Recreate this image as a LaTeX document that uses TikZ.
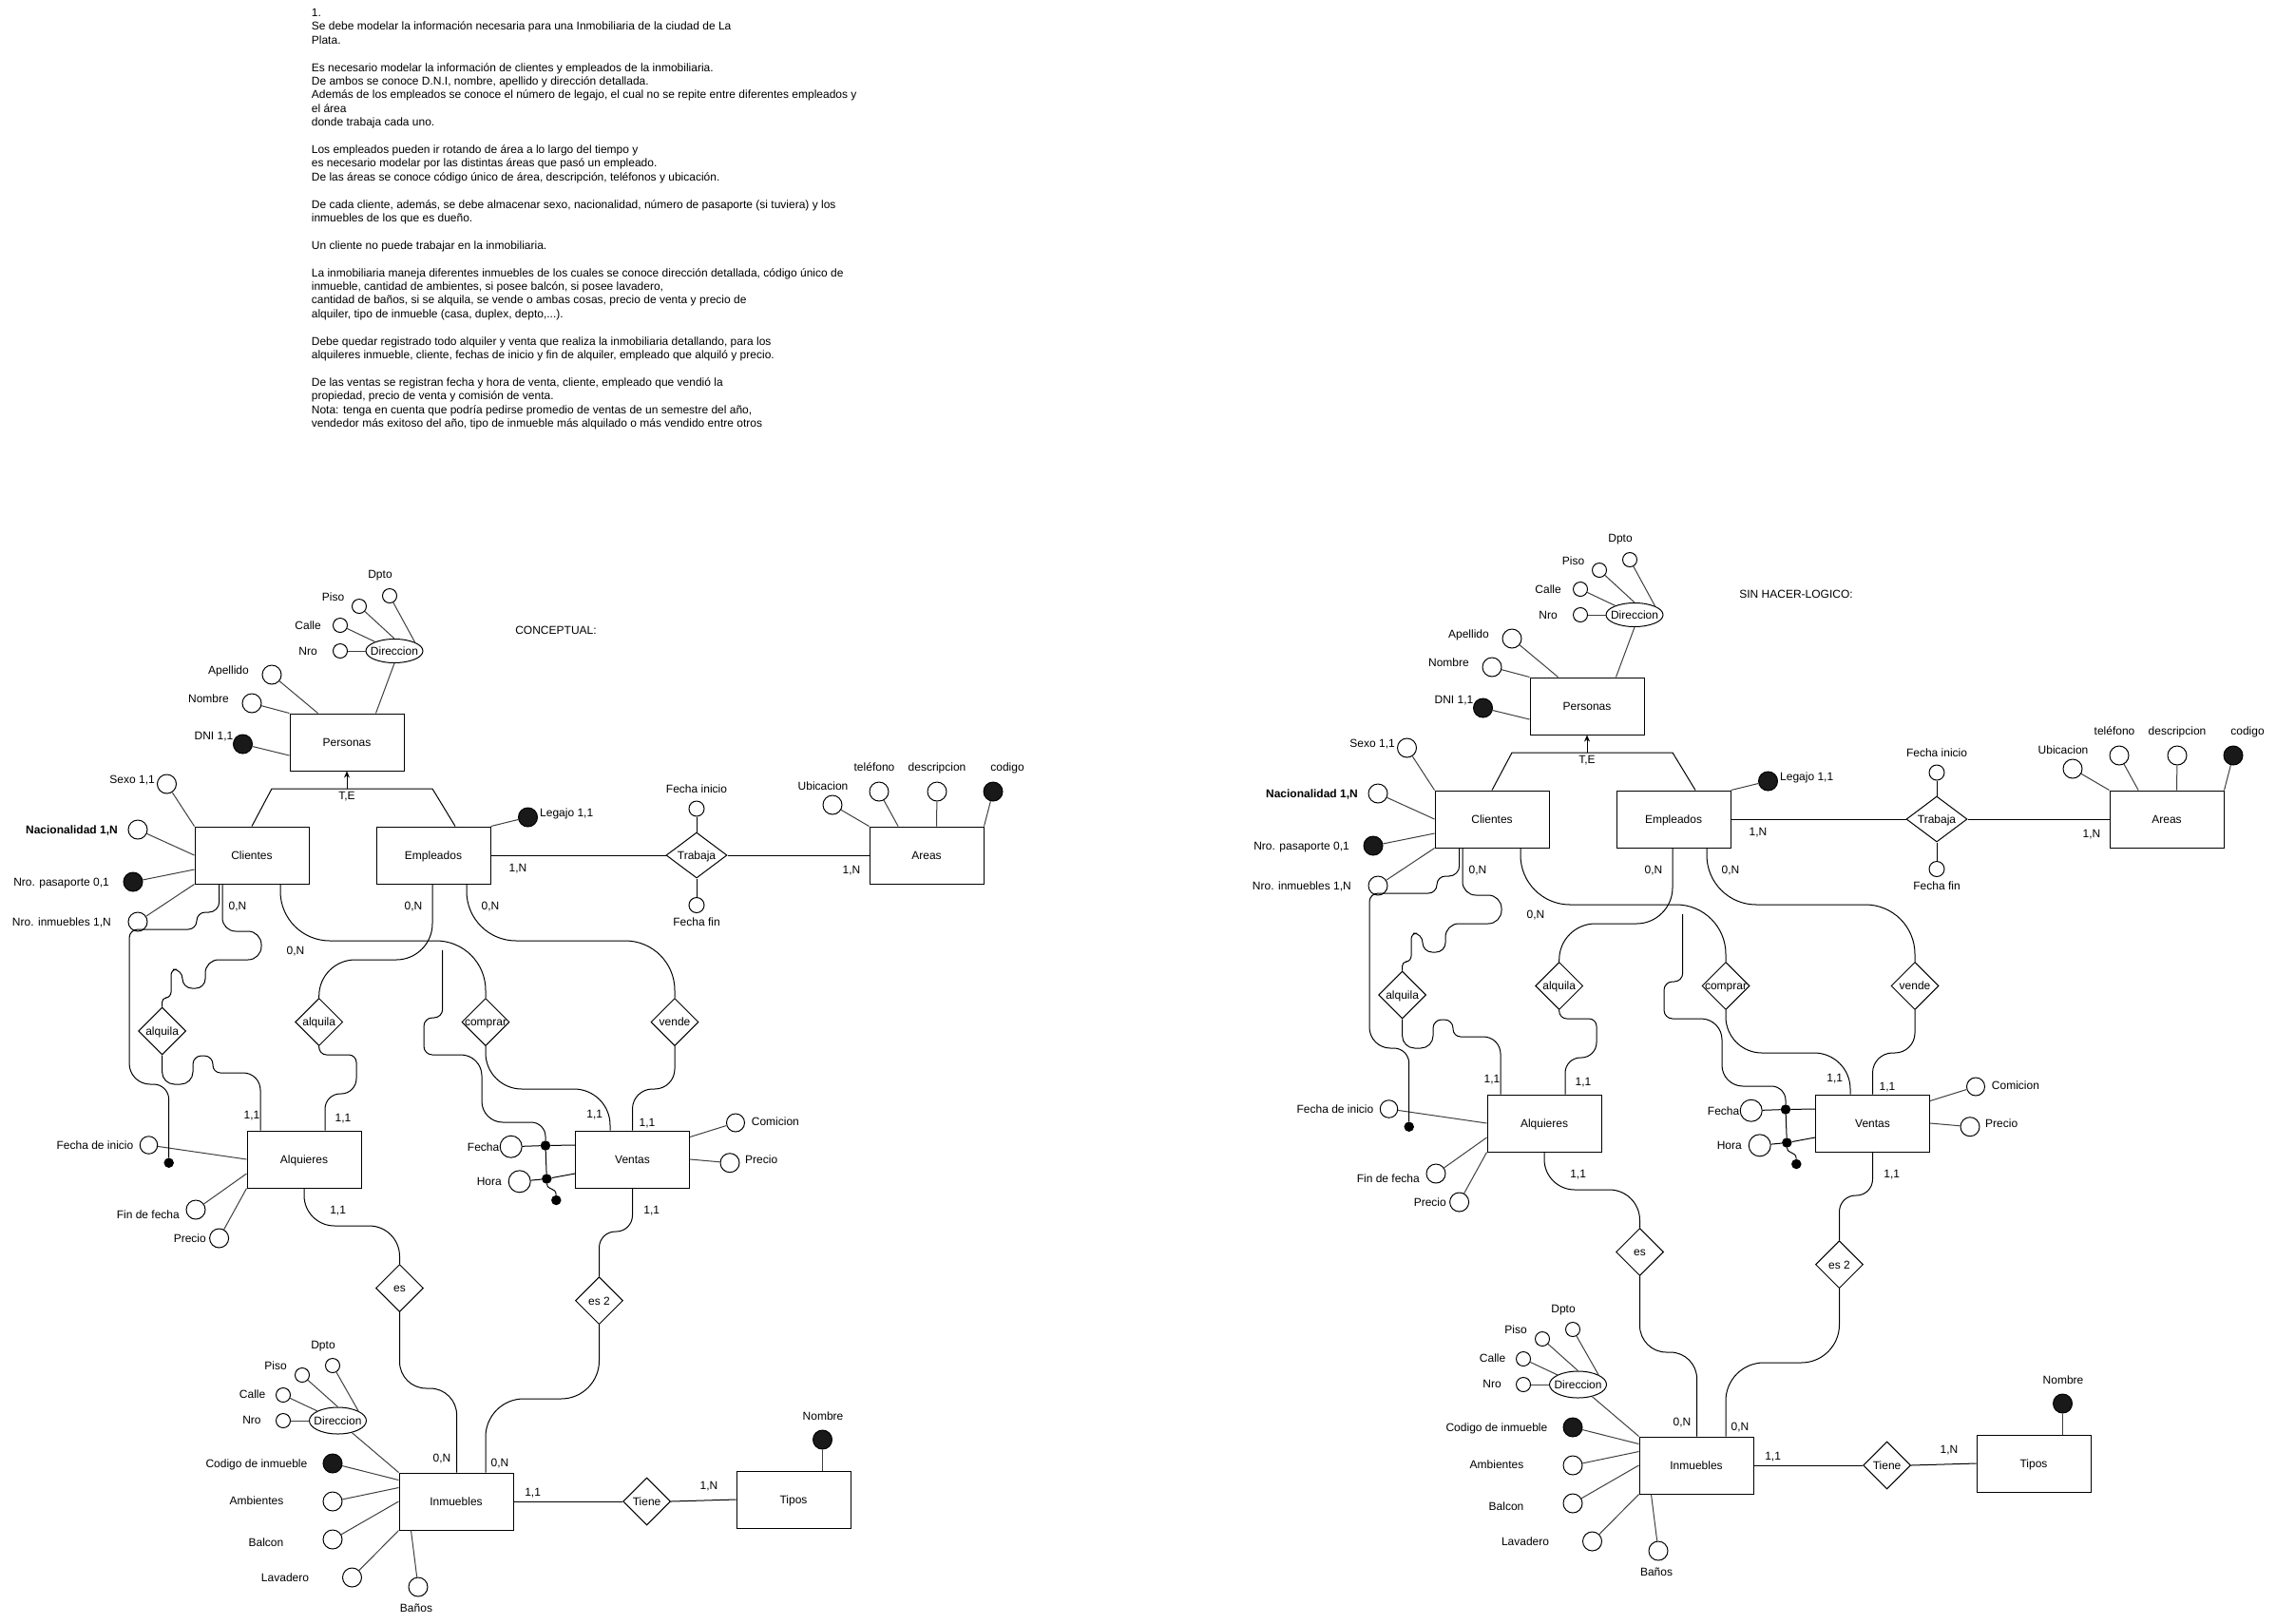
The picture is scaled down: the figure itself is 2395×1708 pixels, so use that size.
\documentclass[tikz,border=0pt]{standalone}
\usepackage{fontspec}
\setmainfont{Liberation Sans}
\usetikzlibrary{shapes.geometric,arrows.meta}
\newcommand\erfont{\fontsize{12pt}{14.4pt}\selectfont}
\tikzset{
  entbox/.style={draw, line width=1pt, minimum width=120pt, minimum height=60pt, inner sep=0pt, text height=8.6pt, text depth=0pt},
  attcirc/.style={circle, draw, line width=1pt, fill=white, minimum size=20pt, inner sep=0pt},
  keycirc/.style={circle, draw, line width=1pt, fill=black!90, minimum size=20pt, inner sep=0pt},
  subcirc/.style={circle, draw, line width=1pt, fill=white, minimum size=15pt, inner sep=0pt},
  dotcirc/.style={circle, fill=black, minimum size=10.5pt, inner sep=0pt},
  relshape/.style={diamond, draw, line width=1pt, minimum width=50pt, minimum height=50pt, inner sep=0pt},
  ellshape/.style={ellipse, draw, line width=1pt, minimum width=60pt, minimum height=25pt, inner sep=0pt},
  attline/.style={draw=black!75, line width=1pt},
  relline/.style={draw=black, line width=1pt},
  lbl/.style={inner sep=0pt, text height=8.6pt, text depth=0pt},
}
\newcommand\erdiagram{%
% ---------- Personas ----------
\node[entbox] (per) at (365,781) {Personas};
\node[ellshape, label={[lbl]center:Direccion}] (dir) at (415,685) {};
\node[subcirc] (nro) at (358,685) {};
\node[subcirc] (calle) at (358,658) {};
\node[subcirc] (piso) at (378,638) {};
\node[subcirc] (dpto) at (410,627) {};
\node[attcirc] (apel) at (286,710) {};
\node[attcirc] (nomb) at (265,740) {};
\node[keycirc] (dni) at (255.5,783) {};
\node[lbl,anchor=east] (t-nro) at (334,685) {Nro};
\node[lbl,anchor=east] (t-calle) at (338,658) {Calle};
\node[lbl] (t-piso) at (350.5,628) {Piso};
\node[lbl] (t-dpto) at (400,604) {Dpto};
\node[lbl,anchor=east] (t-apel) at (262,705) {Apellido};
\node[lbl,anchor=east] (t-nomb) at (241,735) {Nombre};
\node[lbl,anchor=east] (t-dni) at (245.5,774) {DNI 1,1};
\draw[attline] (nro) -- (dir);
\draw[attline] (calle) -- (dir);
\draw[attline] (piso) -- (dir.north);
\draw[attline] (dpto) -- (dir.north east);
\draw[attline] (dir.south) -- ([xshift=91pt]per.north west);
\draw[attline] (apel) -- ([xshift=30pt]per.north west);
\draw[attline] (nomb) -- (per.north west);
\draw[attline] (dni) -- ([yshift=-14pt]per.west);
% ---------- Clientes / Empleados ----------
\node[entbox] (cli) at (265,900) {Clientes};
\node[entbox] (emp) at (456,900) {Empleados};
\coordinate (isaL) at (286,830);
\coordinate (isaR) at (455,830);
\coordinate (isaM) at (365,830);
\draw[relline] (cli.north) -- (isaL) -- (isaR) -- ([xshift=23pt]emp.north);
\draw[relline, -{Stealth[length=7pt,width=6pt]}] (isaM) -- (per.south);
\node[lbl] (t-te) at (365,837.5) {T,E};
\node[attcirc] (sexo) at (175.5,825) {};
\node[attcirc] (nac) at (145,873) {};
\node[keycirc] (pas) at (140,928) {};
\node[attcirc] (ninm) at (145,970) {};
\node[lbl,anchor=east] (t-sexo) at (163,820) {Sexo 1,1};
\node[lbl,anchor=east,font=\erfont\bfseries] (t-nac) at (124,873) {Nacionalidad 1,N};
\node[lbl,anchor=east] (t-pas) at (115,928) {Nro. pasaporte 0,1};
\node[lbl,anchor=east] (t-ninm) at (117,970) {Nro. inmuebles 1,N};
\draw[attline] (sexo) -- (cli.north west);
\draw[attline] (nac) -- (cli.west);
\draw[attline] (pas) -- ([yshift=-15pt]cli.west);
\draw[attline] (ninm) -- (cli.south west);
\node[keycirc] (leg) at (555.5,860) {};
\node[lbl,anchor=west] (t-leg) at (568,855) {Legajo 1,1};
\draw[attline] (leg) -- (emp.north east);
% ---------- Trabaja / Areas ----------
\node[relshape, minimum width=64pt, minimum height=48pt, label={[lbl]center:Trabaja}] (trab) at (733,900) {};
\node[attcirc, minimum size=16pt] (finicio) at (733,851) {};
\node[attcirc, minimum size=16pt] (ffin) at (733,952.5) {};
\node[lbl] (t-finicio) at (733,830) {Fecha inicio};
\node[lbl] (t-ffin) at (733,970) {Fecha fin};
\draw[relline] (finicio) -- (trab.north);
\draw[relline] (ffin) -- (trab.south);
\node[entbox] (are) at (975,900) {Areas};
\draw[relline] (emp.east) -- (trab.west);
\draw[relline] (trab.east) -- (are.west);
\node[lbl] (t-1n-a) at (545,913) {1,N};
\node[lbl] (t-1n-b) at (896,915) {1,N};
\node[attcirc] (ubic) at (876,847) {};
\node[attcirc] (tel) at (925,833) {};
\node[attcirc] (desc) at (986,833) {};
\node[keycirc] (cod) at (1045,833) {};
\node[lbl] (t-ubic) at (866,827) {Ubicacion};
\node[lbl] (t-tel) at (920,807) {teléfono};
\node[lbl] (t-desc) at (986,807) {descripcion};
\node[lbl] (t-cod) at (1060,807) {codigo};
\draw[attline] (ubic) -- (are.north west);
\draw[attline] (tel) -- ([xshift=30.6pt]are.north west);
\draw[attline] (desc) -- ([xshift=71pt]are.north west);
\draw[attline] (cod) -- (are.north east);
\node[lbl] (t-0n-a) at (250,953) {0,N};
\node[lbl] (t-0n-b) at (435,953) {0,N};
\node[lbl] (t-0n-c) at (516,953) {0,N};
\node[lbl] (t-0n-d) at (311,1000) {0,N};
% ---------- relationships ----------
\node[relshape, label={[lbl]center:alquila}] (alq1) at (170.6,1085) {};
\node[relshape, label={[lbl]center:alquila}] (alq2) at (335.7,1075.5) {};
\node[relshape, label={[lbl]center:comprar}] (comp) at (511,1075.5) {};
\node[relshape, label={[lbl]center:vende}] (vend) at (710,1075.5) {};
\node[entbox] (alqs) at (320,1220) {Alquieres};
\node[entbox] (vent) at (665.5,1220) {Ventas};
% Alquieres attributes
\node[attcirc, minimum size=18.5pt] (fini) at (156.5,1205) {};
\node[dotcirc] (dot1) at (177.7,1223.7) {};
\node[attcirc] (ffec) at (206,1273) {};
\node[attcirc] (prec1) at (230.6,1303) {};
\node[lbl,anchor=east] (t-fini) at (140.5,1205) {Fecha de inicio};
\node[lbl,anchor=east] (t-ffec) at (189,1278) {Fin de fecha};
\node[lbl,anchor=east] (t-prec1) at (217,1303) {Precio};
\draw[attline] (fini) -- (alqs.west);
\draw[attline] (ffec) -- ([yshift=-15pt]alqs.west);
\draw[attline] (prec1) -- (alqs.south west);
% Ventas attributes
\node[attcirc, minimum size=23pt] (fecha) at (537.7,1206.7) {};
\node[attcirc, minimum size=23pt] (hora) at (546.7,1243.3) {};
\node[dotcirc] (dotF) at (574,1205.5) {};
\node[dotcirc] (dotH) at (575.3,1240.5) {};
\node[dotcirc] (dot3) at (585.3,1263) {};
\node[lbl,anchor=east] (t-fecha) at (525.5,1207) {Fecha};
\node[lbl,anchor=east] (t-hora) at (528,1243) {Hora};
\draw[relline] (fecha) -- (dotF) -- ([yshift=15pt]vent.west);
\draw[relline] (hora) -- (dotH) -- ([yshift=-15pt]vent.west);
\draw[relline] (dotF) -- (dotH);
\draw[relline] (dotH) .. controls (576,1253) and (585,1249) .. (dot3);
\node[attcirc, minimum size=19pt] (comi) at (774,1181.5) {};
\node[attcirc] (prec2) at (768,1223.7) {};
\node[lbl,anchor=west] (t-comi) at (790.7,1180) {Comicion};
\node[lbl,anchor=west] (t-prec2) at (784,1220) {Precio};
\draw[attline] (comi) -- ([yshift=-7pt]vent.north east);
\draw[attline] (prec2) -- (vent.east);
% curved connectors
\draw[relline] ([xshift=-34.3pt]cli.south) [rounded corners=11pt] -- (230.7,960) [rounded corners=9pt] -- (207,960) -- (207,978) -- (136,978) [rounded corners=22pt] -- (136,1141) [rounded corners=16pt] -- (177.7,1141) -- (dot1);
\draw[relline] ([xshift=-31pt]cli.south) [rounded corners=14pt] -- (234,980) -- (275,980) -- (275,1010) -- (216,1010) [rounded corners=10pt] -- (216,1040) -- (192,1040) -- (192,1020) [rounded corners=6pt] -- (180,1020) -- (180,1050) [rounded corners=4.5pt] -- (170.6,1050) -- (alq1.north);
\draw[relline] (alq1.south) [rounded corners=13pt] -- (170.6,1141) -- (203,1141) [rounded corners=9pt] -- (203,1111) -- (224,1111) [rounded corners=8pt] -- (224,1129) [rounded corners=18pt] -- (274,1129) -- ([xshift=-46pt]alqs.north);
\draw[relline] ([xshift=30pt]cli.south) [rounded corners=52pt] -- (295,990) -- (511,990) -- (comp.north);
\draw[relline] ([xshift=-1pt]emp.south) [rounded corners=38pt] -- (455,1010) -- (335.7,1010) [rounded corners=22pt] -- (alq2.north);
\draw[relline] ([xshift=35pt]emp.south) [rounded corners=52pt] -- (491,990) -- (710,990) -- (vend.north);
\draw[relline] (alq2.south) [rounded corners=8pt] -- (335.7,1110) -- (375,1110) [rounded corners=16pt] -- (375,1151) -- (342,1151) -- ([xshift=22pt]alqs.north);
\draw[relline] (comp.south) [rounded corners=38pt] -- (511,1146) -- (642,1146) -- ([xshift=-23.5pt]vent.north);
\draw[relline] (vend.south) [rounded corners=21pt] -- (710,1146) -- (665.5,1146) -- (vent.north);
\coordinate (c9s) at (465.7,1000);
\draw[relline] (c9s) [rounded corners=9pt] -- (465.7,1071) -- (446,1071) -- (446,1110) [rounded corners=22pt] -- (507,1110) -- (507,1181) [rounded corners=15pt] -- (574,1181) -- (dotF);
\node[lbl] (t-11a) at (265,1173) {1,1};
\node[lbl] (t-11b) at (361,1176) {1,1};
\node[lbl] (t-11c) at (355.6,1273) {1,1};
\node[lbl] (t-11d) at (625.7,1172.3) {1,1};
\node[lbl] (t-11e) at (681,1180.7) {1,1};
\node[lbl] (t-11f) at (685.7,1272.7) {1,1};
% ---------- es / es 2 ----------
\node[relshape, label={[lbl]center:es}] (es) at (420.5,1355.5) {};
\node[relshape, label={[lbl]center:es 2}] (es2) at (630.5,1368.7) {};
\draw[relline] (alqs.south) [rounded corners=32pt] -- (320,1290) -- (420.5,1290) -- (es.north);
\draw[relline] (vent.south) [rounded corners=17pt] -- (665.5,1296) -- (630.5,1296) -- (es2.north);
% ---------- Inmuebles ----------
\node[entbox] (inm) at (480,1580) {Inmuebles};
\draw[relline] (es.south) [rounded corners=28pt] -- (420.5,1461) -- (480.6,1461) -- ([xshift=0.6pt]inm.north);
\draw[relline] (es2.south) [rounded corners=40pt] -- (630.5,1472) -- (511,1472) -- ([xshift=31pt]inm.north);
\node[ellshape, minimum height=28pt, label={[lbl]center:Direccion}] (dir2) at (355.5,1495) {};
\node[subcirc] (nro2) at (298,1495) {};
\node[subcirc] (calle2) at (298,1468) {};
\node[subcirc] (piso2) at (318,1447) {};
\node[subcirc] (dpto2) at (350,1437) {};
\node[lbl] (t-nro2) at (265,1494) {Nro};
\node[lbl] (t-calle2) at (265.6,1467) {Calle};
\node[lbl] (t-piso2) at (290,1437) {Piso};
\node[lbl] (t-dpto2) at (340,1415) {Dpto};
\node[keycirc] (codi) at (350,1540) {};
\node[attcirc] (amb) at (350,1580) {};
\node[attcirc] (balc) at (350,1620) {};
\node[attcirc] (lav) at (370.5,1660) {};
\node[attcirc] (banos) at (440,1670) {};
\node[lbl,anchor=east] (t-codi) at (323.5,1540) {Codigo de inmueble};
\node[lbl] (t-amb) at (270,1579) {Ambientes};
\node[lbl] (t-balc) at (280,1623) {Balcon};
\node[lbl] (t-lav) at (300,1660) {Lavadero};
\node[lbl] (t-banos) at (438,1692) {Baños};
\draw[attline] (nro2) -- (dir2);
\draw[attline] (calle2) -- (dir2);
\draw[attline] (piso2) -- (dir2.north);
\draw[attline] (dpto2) -- (dir2.north east);
\draw[attline] (dir2) -- (inm.north west);
\draw[attline] (codi) -- ([yshift=-8pt]inm.north west);
\draw[attline] (amb) -- ([yshift=-16pt]inm.north west);
\draw[attline] (balc) -- (inm.west);
\draw[attline] (lav) -- (inm.south west);
\draw[attline] (banos) -- ([xshift=13pt]inm.south west);
% ---------- Tiene / Tipos ----------
\node[relshape, label={[lbl]center:Tiene}] (tiene) at (680.6,1580) {};
\node[entbox] (tip) at (835,1578) {Tipos};
\node[keycirc] (tnom) at (865.5,1515) {};
\node[lbl] (t-tnom) at (866,1490) {Nombre};
\draw[relline] (inm.east) -- (tiene.west);
\draw[relline] (tiene.east) -- (tip.west);
\draw[attline] (tnom) -- ([xshift=30.5pt]tip.north);
\node[lbl] (t-0n-e) at (465,1534) {0,N};
\node[lbl] (t-0n-f) at (526,1539) {0,N};
\node[lbl] (t-11g) at (560.6,1570) {1,1};
\node[lbl] (t-1n-c) at (746,1563) {1,N};
}
\begin{document}
\begin{tikzpicture}[x=1pt, y=-1pt, font=\erfont]
\fill[white] (0,0) rectangle (2395,1708);
\useasboundingbox (0,0) rectangle (2395,1708);
\node[anchor=north west, align=left, inner sep=0pt] (enunciado) at (327.7,9) {1.\\
Se debe modelar la información necesaria para una Inmobiliaria de la ciudad de La\\
Plata.\\[14.4pt]
Es necesario modelar la información de clientes y empleados de la inmobiliaria.\\
De ambos se conoce D.N.I, nombre, apellido y dirección detallada.\\
Además de los empleados se conoce el número de legajo, el cual no se repite entre diferentes empleados y\\
el área\\
donde trabaja cada uno.\\[14.4pt]
Los empleados pueden ir rotando de área a lo largo del tiempo y\\
es necesario modelar por las distintas áreas que pasó un empleado.\\
De las áreas se conoce código único de área, descripción, teléfonos y ubicación.\\[14.4pt]
De cada cliente, además, se debe almacenar sexo, nacionalidad, número de pasaporte (si tuviera) y los\\
inmuebles de los que es dueño.\\[14.4pt]
Un cliente no puede trabajar en la inmobiliaria.\\[14.4pt]
La inmobiliaria maneja diferentes inmuebles de los cuales se conoce dirección detallada, código único de\\
inmueble, cantidad de ambientes, si posee balcón, si posee lavadero,\\
cantidad de baños, si se alquila, se vende o ambas cosas, precio de venta y precio de\\
alquiler, tipo de inmueble (casa, duplex, depto,...).\\[14.4pt]
Debe quedar registrado todo alquiler y venta que realiza la inmobiliaria detallando, para los\\
alquileres inmueble, cliente, fechas de inicio y fin de alquiler, empleado que alquiló y precio.\\[14.4pt]
De las ventas se registran fecha y hora de venta, cliente, empleado que vendió la\\
propiedad, precio de venta y comisión de venta.\\
Nota: tenga en cuenta que podría pedirse promedio de ventas de un semestre del año,\\
vendedor más exitoso del año, tipo de inmueble más alquilado o más vendido entre otros};
\node[lbl] (conceptual) at (585,663) {CONCEPTUAL:};
\node[lbl] (logico) at (1890,625) {SIN HACER-LOGICO:};
\begin{scope}[name prefix=L-]
\erdiagram
\end{scope}
\begin{scope}[shift={(1305,-38)}, name prefix=R-]
\erdiagram
\end{scope}
\end{tikzpicture}
\end{document}
